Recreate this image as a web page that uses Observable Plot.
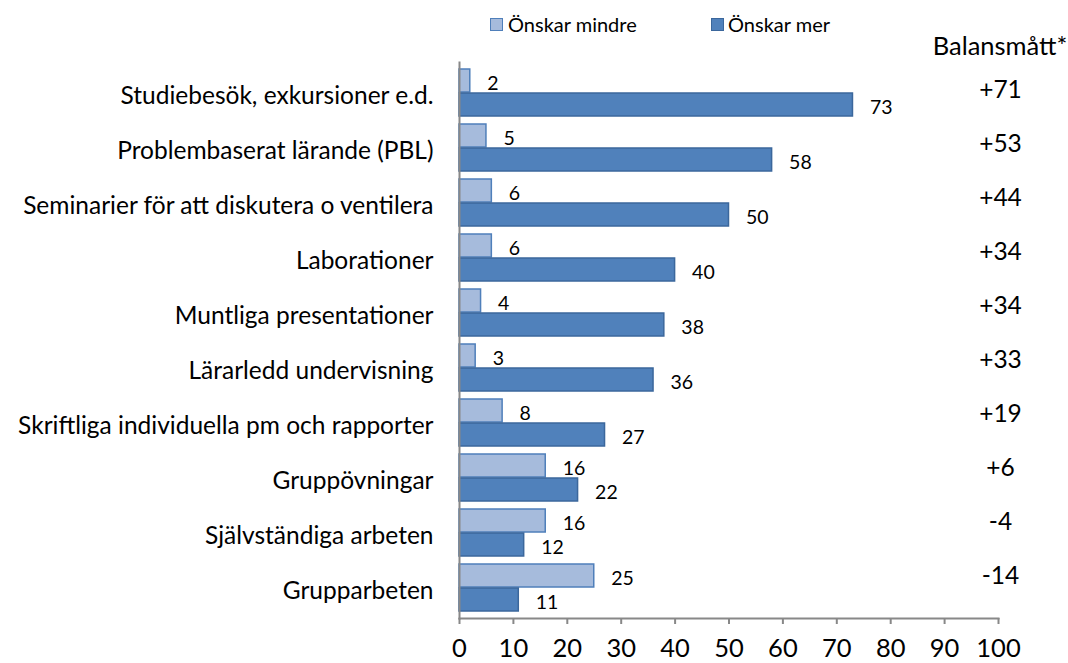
<!DOCTYPE html>
<html>
<head>
<meta charset="utf-8">
<script src="https://cdn.jsdelivr.net/npm/d3@7"></script>
<script src="https://cdn.jsdelivr.net/npm/@observablehq/plot@0.6"></script>
<style>
  html, body { margin: 0; padding: 0; background: #fff; }
  #wrap { position: relative; width: 1068px; height: 663px; overflow: hidden; font-family: Lato, "Open Sans", sans-serif; color: #000; }
  #wrap svg { position: absolute; left: 0; top: 0; }
  .leg { position: absolute; font-size: 20px; line-height: 1; white-space: nowrap; }
  .sw { position: absolute; width: 11px; height: 11px; }
  #head { position: absolute; font-size: 25.5px; white-space: nowrap; transform: translateX(-50%); }
</style>
</head>
<body>
<div id="wrap"></div>
<script>
const categories = [
  "Studiebesök, exkursioner e.d.",
  "Problembaserat lärande (PBL)",
  "Seminarier för att diskutera o ventilera",
  "Laborationer",
  "Muntliga presentationer",
  "Lärarledd undervisning",
  "Skriftliga individuella pm och rapporter",
  "Gruppövningar",
  "Självständiga arbeten",
  "Grupparbeten"
];
const onskarMindre = [2, 5, 6, 6, 4, 3, 8, 16, 16, 25];
const onskarMer = [73, 58, 50, 40, 38, 36, 27, 22, 12, 11];
const balans = ["+71", "+53", "+44", "+34", "+34", "+33", "+19", "+6", "-4", "-14"];
const seriesNames = ["Önskar mindre", "Önskar mer"];
const balansTitle = "Balansmått*";
const xTicks = [0, 10, 20, 30, 40, 50, 60, 70, 80, 90, 100];

const lightFill = "#a6bbdc", lightStroke = "#4f7fba";
const darkFill = "#5081bb", darkStroke = "#3b679c";

const rows = categories.map((c, i) => ({cat: c, mindre: onskarMindre[i], mer: onskarMer[i], bal: balans[i]}));

const font = "Lato, 'Open Sans', sans-serif";

const main = Plot.plot({
  width: 1068,
  height: 663,
  marginLeft: 459,
  marginRight: 70,
  marginTop: 62,
  marginBottom: 45,
  style: {fontFamily: font, background: "transparent", color: "#000"},
  x: {domain: [0, 100]},
  y: {domain: categories, paddingInner: 0.137, paddingOuter: 0.0685},
  marks: [
    Plot.barX(rows, {y: "cat", x: "mindre", fill: lightFill, stroke: lightStroke, strokeWidth: 1.5, insetBottom: 24}),
    Plot.barX(rows, {y: "cat", x: "mer", fill: darkFill, stroke: darkStroke, strokeWidth: 1.5, insetTop: 24}),
    Plot.text(rows, {y: "cat", x: "mindre", text: d => String(d.mindre), textAnchor: "start", dx: 17, dy: -8.8, fontSize: 19.5, fill: "#000"}),
    Plot.text(rows, {y: "cat", x: "mer", text: d => String(d.mer), textAnchor: "start", dx: 17, dy: 14.7, fontSize: 19.5, fill: "#000"}),
    Plot.frame({anchor: "left", stroke: "#888", strokeWidth: 2}),
    Plot.frame({anchor: "bottom", stroke: "#888", strokeWidth: 2}),
    Plot.axisX({ticks: xTicks, tickSize: 6, tickPadding: 14, fontSize: 25.5, stroke: "#888", strokeWidth: 2, fill: "#000", label: null, tickFormat: d => String(d)}),
    Plot.axisY({tickSize: 0, tickPadding: 26, fontSize: 24.5, dy: 3, fill: "#000", label: null})
  ]
});

const overlay = Plot.plot({
  width: 1068,
  height: 663,
  marginLeft: 980,
  marginRight: 48,
  marginTop: 90,
  marginBottom: 87,
  style: {fontFamily: font, background: "transparent", color: "#000"},
  y: {type: "point", domain: categories, padding: 0, axis: null},
  marks: [
    Plot.text(rows, {y: "cat", text: "bal", frameAnchor: "middle", textAnchor: "middle", fontSize: 24.5, fill: "#000"})
  ]
});

const wrap = document.getElementById("wrap");
wrap.appendChild(main);
overlay.style.pointerEvents = "none";
wrap.appendChild(overlay);

// legend
const legendItems = [
  {name: seriesNames[0], fill: lightFill, stroke: lightStroke, sx: 490, tx: 508},
  {name: seriesNames[1], fill: darkFill, stroke: darkStroke, sx: 711, tx: 728}
];
legendItems.forEach(it => {
  const sw = document.createElement("div");
  sw.className = "sw";
  sw.style.left = it.sx + "px";
  sw.style.top = "18px";
  sw.style.background = it.fill;
  sw.style.border = "1px solid " + it.stroke;
  wrap.appendChild(sw);
  const t = document.createElement("div");
  t.className = "leg";
  t.style.left = it.tx + "px";
  t.style.top = "14px";
  t.textContent = it.name;
  wrap.appendChild(t);
});
const head = document.createElement("div");
head.id = "head";
head.style.left = "1000px";
head.style.top = "30px";
head.textContent = balansTitle;
wrap.appendChild(head);
</script>
</body>
</html>
